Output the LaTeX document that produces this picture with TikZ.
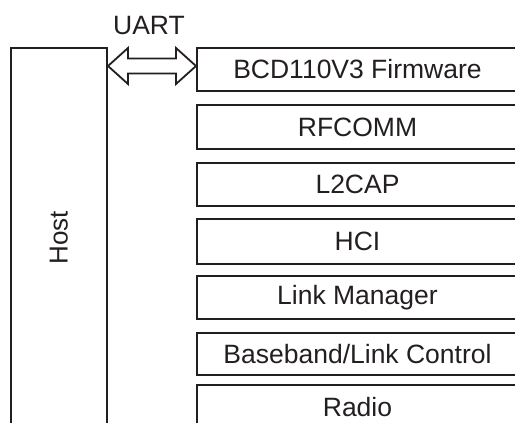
\documentclass[tikz,border=0pt]{standalone}
\usepackage{fontspec}
\setmainfont{Liberation Sans}
\usetikzlibrary{calc}
\definecolor{ink}{HTML}{231F20}
\begin{document}
\begin{tikzpicture}[x=1pt,y=-1pt,
  box/.style={draw=ink, line width=2pt, rectangle, inner sep=0pt, anchor=north west,
    minimum width=321pt, font=\fontsize{26.5}{30}\selectfont, text=ink},
  hostbox/.style={draw=ink, line width=2pt, rectangle, inner sep=0pt, anchor=north west,
    minimum width=96.5pt, minimum height=380pt, font=\fontsize{26}{30}\selectfont, text=ink},
  dblarrow/.style={draw=ink, line width=1.8pt, fill=white, line join=miter},
  lbl/.style={font=\fontsize{26.5}{30}\selectfont, text=ink, inner sep=0pt}]
\clip (0,0) rectangle (515,423);
\fill[white] (0,0) rectangle (515,423);
\node[hostbox] (host) at (9.5,47) {\rotatebox{90}{Host}};
\node[box, minimum height=43pt] (fw) at (196,47) {BCD110V3 Firmware};
\node[box, minimum height=44pt] (rf) at (196,104) {RFCOMM};
\node[box, minimum height=43pt] (l2) at (196,162) {L2CAP};
\node[box, minimum height=45pt] (hci) at (196,218) {HCI};
\node[box, minimum height=43pt] (lm) at (196,275) {Link Manager};
\node[box, minimum height=42pt] (bb) at (196,332) {Baseband/Link Control};
\node[box, minimum height=45pt] (radio) at (196,384) {Radio};
\path (fw.west) ++(0,-3.5) coordinate (R);
\path (host.east |- R) coordinate (L);
\draw[dblarrow] (L) -- ($(L)+(20,-18)$) -- ($(L)+(20,-7.5)$) -- ($(R)+(-20,-7.5)$)
  -- ($(R)+(-20,-18)$) -- (R) -- ($(R)+(-20,18)$) -- ($(R)+(-20,7.5)$)
  -- ($(L)+(20,7.5)$) -- ($(L)+(20,18)$) -- cycle;
\node[lbl] (uart) at ($(L)!0.5!(R)+(-3,-40)$) {UART};
\end{tikzpicture}
\end{document}
